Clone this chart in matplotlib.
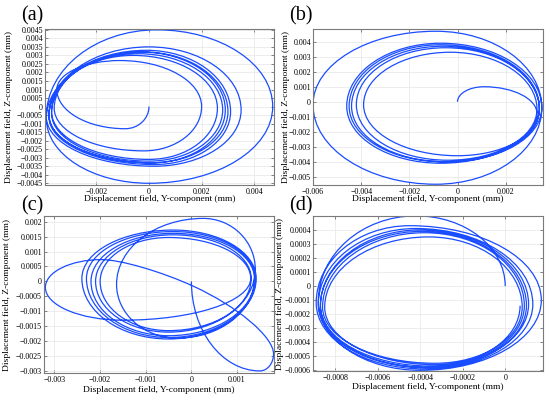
import numpy as np
import matplotlib
matplotlib.use('Agg')
import matplotlib.pyplot as plt
from matplotlib.path import Path
from matplotlib.patches import PathPatch
from matplotlib.ticker import MultipleLocator, FuncFormatter

plt.rcParams.update({
    'font.family': 'serif',
    'font.serif': ['Liberation Serif', 'DejaVu Serif'],
    'font.size': 5.8,
    'axes.labelsize': 6.8,
    'xtick.labelsize': 5.8,
    'ytick.labelsize': 5.8,
    'axes.linewidth': 0.8,
    'axes.edgecolor': '#7a7a7a',
    'xtick.direction': 'in',
    'ytick.direction': 'in',
    'xtick.major.size': 2.0,
    'ytick.major.size': 2.0,
    'xtick.major.width': 0.5,
    'ytick.major.width': 0.5,
    'xtick.color': '#555555',
    'ytick.color': '#555555',
    'xtick.labelcolor': 'black',
    'ytick.labelcolor': 'black',
    'xtick.top': True,
    'ytick.right': True,
    'xtick.major.pad': 2,
    'ytick.major.pad': 1.5,
})

BLUE = '#1a4dff'
XLAB = 'Displacement field, Y-component (mm)'
YLAB = 'Displacement field, Z-component (mm)'

# -- orbit key points (extremes of each turn) --------------------------------
# (a) clockwise: R, B, L, T, ...
a_y = [0.0, -0.0009, -0.0035, -0.0011, 0.0020, -0.0002, -0.0036, -0.0006,
       0.0026, 0.0000, -0.0037, -0.0004, 0.0028, 0.0000, -0.0037, -0.0003,
       0.0029, 0.0001, -0.0038, -0.0002, 0.0030, 0.0001, -0.0038, -0.0001,
       0.0031, 0.0002, -0.0038, 0.0000, 0.0035, 0.0002, -0.0039, 0.0003,
       0.0047, 0.0000, -0.0039, -0.0002]
a_z = [0.0, -0.0013, 0.0010, 0.0027, 0.0000, -0.0026, -0.0001, 0.0030,
       -0.0001, -0.0031, -0.0003, 0.0031, -0.0002, -0.0032, -0.0004, 0.0032,
       -0.0002, -0.0033, -0.0005, 0.0032, -0.0003, -0.0033, -0.0005, 0.0033,
       -0.0003, -0.0034, -0.0006, 0.0035, -0.0002, -0.0035, -0.0006, 0.0045,
       0.0000, -0.0045, -0.0007, 0.0032]

# (b) clockwise: L, T, R, B, ...
b_y = [0.0, 0.0011, 0.0033, 0.0000, -0.0039, -0.0003, 0.0033, -0.0004,
       -0.0042, -0.0005, 0.0034, -0.0005, -0.0044, -0.0006, 0.0034, -0.0006,
       -0.0045, -0.0007, 0.0034, -0.0007, -0.0046, -0.0007, 0.0035, -0.0009,
       -0.0060, -0.0009, 0.0035, -0.0004]
b_z = [0.0, 0.0010, -0.0008, -0.0036, -0.0002, 0.0033, -0.0005, -0.0039,
       -0.0002, 0.0036, -0.0005, -0.0040, -0.0003, 0.0037, -0.0005, -0.0040,
       -0.0003, 0.0038, -0.0004, -0.0041, -0.0003, 0.0039, -0.0004, -0.0055,
       -0.0002, 0.0047, -0.0004, -0.0040]

# (c) counter-clockwise: L, B, R, (diagonal), T, L, B, R, ...
c_y = [0.0, 0.0015, 0.0018, 0.00004, -0.00197, -0.0032, -0.0015, 0.0013,
       -0.0005, -0.0020, -0.0005, 0.00131, -0.0004, -0.0021, -0.0005, 0.0014,
       0.00026, -0.00164, -0.0003, 0.00138, -0.0004, -0.0022, -0.0005, 0.0014,
       -0.0004, -0.0023, -0.0005, 0.00142, -0.0004, -0.0024, -0.0005, 0.0014]
c_z = [0.0, -0.0030, -0.00243, -0.00016, 0.00073, -0.0002, -0.0013, 0.0001,
       0.00147, 0.0000, -0.00165, 0.0001, 0.00156, 0.0000, -0.0017, 0.0004,
       0.00211, -0.0001, -0.0019, 0.0001, 0.00161, 0.0000, -0.00182, 0.0001,
       0.00167, 0.0001, -0.00188, 0.0001, 0.00172, 0.0001, -0.00193, 0.0001]
c_dir = [90, 0, 90, -35, 0, 90, 0, 90] + [0, 90] * 12

# (d) counter-clockwise: R, T, L, B, ...
d_y = [0.0, -0.00042, -0.00088, -0.00040, 0.00017, -0.00045, -0.00089,
       -0.00038, 0.00013, -0.00042, -0.00088, -0.00037, 0.00011, -0.00040,
       -0.00087, -0.00036, 0.00010, -0.00039, -0.00087, -0.00035, 0.00009,
       -0.00038, -0.00086, -0.00033, 0.00008, -0.00036, -0.00085, -0.00033,
       0.00007]
d_z = [0.0, 0.00050, -0.00011, -0.00060, -0.00010, 0.00043, -0.00012,
       -0.00059, -0.00013, 0.00041, -0.00013, -0.00058, -0.00013, 0.00040,
       -0.00014, -0.00058, -0.00014, 0.00039, -0.00014, -0.00057, -0.00014,
       0.00038, -0.00015, -0.00055, -0.00015, 0.00035, -0.00015, -0.00056,
       -0.00014]

K = 0.5523  # Bezier constant for a quarter ellipse


def alternating(n):
    return [90 if i % 2 == 0 else 0 for i in range(n)]


def orbit_path(ys, zs, dirs):
    P = np.column_stack([ys, zs]).astype(float)
    rad = np.radians(dirs)
    D = np.column_stack([np.cos(rad), np.sin(rad)])
    verts = [P[0]]
    for i in range(len(P) - 1):
        p, q = P[i], P[i + 1]
        A = np.column_stack([D[i], -D[i + 1]])
        s, _ = np.linalg.solve(A, q - p)
        corner = p + s * D[i]
        verts += [p + K * (corner - p), q + K * (corner - q), q]
    codes = [Path.MOVETO] + [Path.CURVE4] * (3 * (len(P) - 1))
    return Path(verts, codes)


def fmt(v, pos):
    v = round(v, 9)
    if v == 0:
        return '0'
    return ('%g' % v).replace('-', '\u2212')


def panel(rect, ys, zs, dirs, xlim, ylim, xstep, ystep, ylab_x, xlab_y):
    ax = fig.add_axes(rect)
    ax.add_patch(PathPatch(orbit_path(ys, zs, dirs), fill=False,
                           edgecolor=BLUE, lw=0.9, joinstyle='round'))
    ax.set_xlim(*xlim)
    ax.set_ylim(*ylim)
    ax.xaxis.set_major_locator(MultipleLocator(xstep))
    ax.yaxis.set_major_locator(MultipleLocator(ystep))
    ax.xaxis.set_major_formatter(FuncFormatter(fmt))
    ax.yaxis.set_major_formatter(FuncFormatter(fmt))
    ax.grid(True, color='#e6e6e6', lw=0.5)
    ax.set_axisbelow(True)
    ax.set_xlabel(XLAB)
    ax.set_ylabel(YLAB)
    ax.yaxis.set_label_coords(ylab_x, 0.5)
    ax.xaxis.set_label_coords(0.5, xlab_y)
    return ax


fig = plt.figure(figsize=(5.5, 4.01), dpi=100)

panel([0.0818, 0.5387, 0.4164, 0.389], a_y, a_z, alternating(len(a_y)),
      (-0.00395, 0.00475), (-0.0046, 0.00455), 0.002, 0.0005, -0.14, -0.062)
panel([0.5691, 0.5387, 0.4182, 0.389], b_y, b_z, alternating(len(b_y)),
      (-0.0060, 0.00355), (-0.00555, 0.00485), 0.002, 0.001, -0.10, -0.062)
panel([0.0800, 0.0698, 0.4182, 0.3915], c_y, c_z, c_dir,
      (-0.00323, 0.00181), (-0.00307, 0.00219), 0.001, 0.0005, -0.142, -0.08)
panel([0.5691, 0.0748, 0.4182, 0.3865], d_y, d_z, alternating(len(d_y)),
      (-0.000905, 0.000178), (-0.000605, 0.000499), 0.0002, 0.0001, -0.125, -0.08)

for x, y, s in [(0.038, 0.985, '(a)'), (0.525, 0.985, '(b)'),
                (0.038, 0.511, '(c)'), (0.525, 0.511, '(d)')]:
    fig.text(x, y, s, fontsize=14.5, va='top', ha='left')

fig.savefig('out.png', dpi=100)
